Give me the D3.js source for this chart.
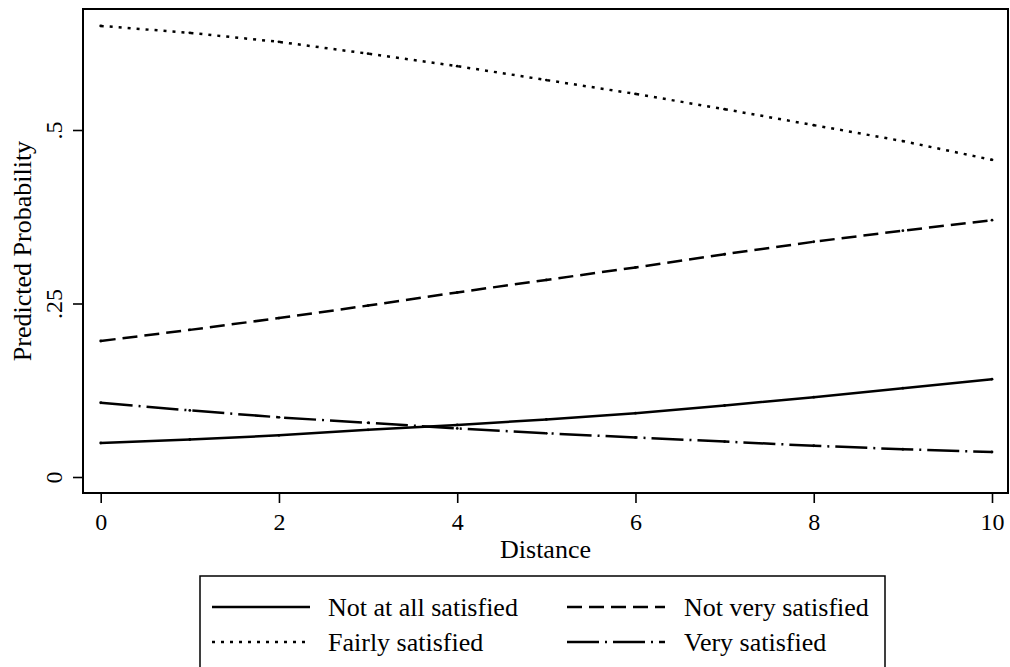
<!DOCTYPE html>
<html>
<head>
<meta charset="utf-8">
<script src="https://cdn.jsdelivr.net/npm/d3@7"></script>
<style>
  html, body { margin: 0; padding: 0; background: #fff; }
  svg { display: block; }
</style>
</head>
<body>
<div id="chart"></div>
<script>
const distance = [0, 1, 2, 3, 4, 5, 6, 7, 8, 9, 10];
const notAtAll = [0.049, 0.054, 0.060, 0.068, 0.075, 0.083, 0.092, 0.103, 0.115, 0.128, 0.141];
const notVery  = [0.196, 0.212, 0.229, 0.247, 0.266, 0.284, 0.302, 0.321, 0.339, 0.355, 0.370];
const fairly   = [0.650, 0.640, 0.627, 0.610, 0.592, 0.572, 0.552, 0.530, 0.507, 0.484, 0.457];
const very     = [0.107, 0.096, 0.086, 0.078, 0.070, 0.063, 0.057, 0.051, 0.045, 0.040, 0.036];
const seriesNames = ["Not at all satisfied", "Not very satisfied", "Fairly satisfied", "Very satisfied"];
const xTicks = [0, 2, 4, 6, 8, 10];
const yTicks = [0, 0.25, 0.5];
const yTickLabels = ["0", ".25", ".5"];

const FONT = "'Liberation Serif'";
const W = 1010, H = 667;
const frame = {left: 83, top: 9, right: 1008, bottom: 493};

const svg = d3.select("#chart").append("svg").attr("width", W).attr("height", H)
  .style("font-family", FONT);

const x = d3.scaleLinear().domain([0, 10]).range([100.7, 992]);
const y = d3.scaleLinear().domain([0, 0.5]).range([477, 130]);

const dashes = ["none", "15,7", "3,6", "32,6,2,6"];
const seriesData = [notAtAll, notVery, fairly, very];

// plot frame
svg.append("rect")
  .attr("x", frame.left).attr("y", frame.top)
  .attr("width", frame.right - frame.left).attr("height", frame.bottom - frame.top)
  .attr("fill", "none").attr("stroke", "#000").attr("stroke-width", 2);

// axes
const xAxis = d3.axisBottom(x).tickValues(xTicks).tickSize(10).tickFormat(d3.format("d"));
const gx = svg.append("g").attr("transform", `translate(0,${frame.bottom})`).call(xAxis)
  .attr("font-family", null).style("font-family", FONT);
gx.select(".domain").remove();
gx.selectAll(".tick line").attr("stroke", "#000").attr("stroke-width", 1.6);
gx.selectAll(".tick text").attr("font-size", 24).attr("dy", null).attr("y", 37)
  .attr("fill", "#000").style("font-family", FONT);

const yAxis = d3.axisLeft(y).tickValues(yTicks).tickSize(10).tickFormat((d, i) => yTickLabels[i]);
const gy = svg.append("g").attr("transform", `translate(${frame.left},0)`).call(yAxis)
  .attr("font-family", null).style("font-family", FONT);
gy.select(".domain").remove();
gy.selectAll(".tick line").attr("stroke", "#000").attr("stroke-width", 1.6);
gy.selectAll(".tick text")
  .attr("font-size", 24).attr("x", null).attr("dy", null)
  .attr("text-anchor", "middle").attr("fill", "#000")
  .attr("transform", "translate(-21,0) rotate(-90)")
  .style("font-family", FONT);

// axis titles
svg.append("text").attr("x", (frame.left + frame.right) / 2).attr("y", 558)
  .attr("text-anchor", "middle").attr("font-size", 26).style("font-family", FONT).text("Distance");
svg.append("text")
  .attr("transform", `translate(31,${(frame.top + frame.bottom) / 2}) rotate(-90)`)
  .attr("text-anchor", "middle").attr("font-size", 26).style("font-family", FONT)
  .text("Predicted Probability");

// lines
const line = d3.line().x((d, i) => x(distance[i])).y(d => y(d));
seriesData.forEach((vals, k) => {
  svg.append("path").datum(vals)
    .attr("d", line)
    .attr("fill", "none").attr("stroke", "#000").attr("stroke-width", 2.5)
    .attr("stroke-dasharray", dashes[k]);
  svg.append("g").selectAll("circle").data(vals).join("circle")
    .attr("cx", (d, i) => x(distance[i])).attr("cy", d => y(d)).attr("r", 1.4)
    .attr("fill", "#000");
});

// legend
const leg = svg.append("g");
leg.append("rect").attr("x", 200).attr("y", 576).attr("width", 685).attr("height", 110)
  .attr("fill", "none").attr("stroke", "#000").attr("stroke-width", 1.5);
const legPos = [
  {lx: 212, tx: 328, cy: 607},
  {lx: 567, tx: 684, cy: 607},
  {lx: 212, tx: 328, cy: 642},
  {lx: 567, tx: 684, cy: 642}
];
seriesNames.forEach((name, k) => {
  const p = legPos[k];
  leg.append("line").attr("x1", p.lx).attr("x2", p.lx + 98).attr("y1", p.cy).attr("y2", p.cy)
    .attr("stroke", "#000").attr("stroke-width", 2.5).attr("stroke-dasharray", dashes[k]);
  leg.append("text").attr("x", p.tx).attr("y", p.cy + 9).attr("font-size", 26)
    .style("font-family", FONT).text(name);
});
</script>
</body>
</html>
